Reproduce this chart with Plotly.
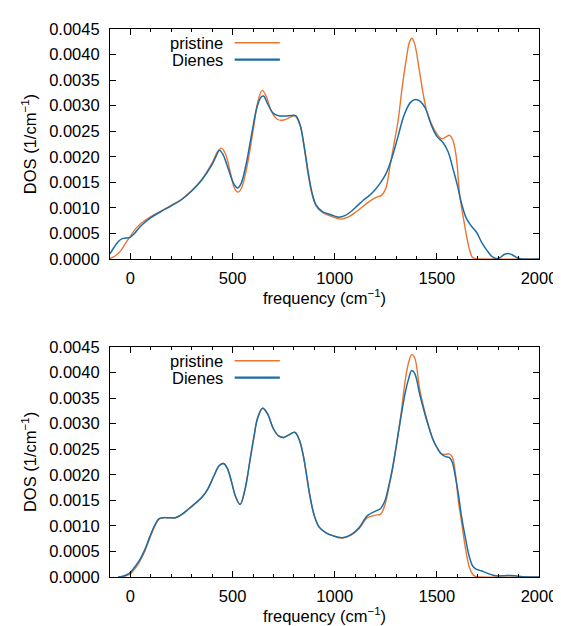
import plotly.graph_objects as go

# ---------------- data (DOS values in units of 1e-4 1/cm^-1) ----------------
top_pristine_x = [-100, -75, -50, -25, 0, 25, 50, 100, 150, 200, 250, 300, 350, 400, 425, 445, 465, 490, 510, 527,
                  545, 570, 600, 625, 645, 665, 690, 720, 750, 780, 805, 830, 850, 870, 890, 910, 940, 980, 1030,
                  1070, 1110, 1160, 1200, 1230, 1250, 1270, 1290, 1310, 1330, 1350, 1365, 1378, 1392, 1410, 1430,
                  1450, 1475, 1500, 1525, 1545, 1562, 1578, 1595, 1612, 1630, 1645, 1660, 1675, 1690, 1710, 2000]
top_pristine_y = [0.1, 0.6, 1.5, 3.0, 4.5, 5.9, 6.9, 8.3, 9.4, 10.5, 11.7, 13.4, 15.6, 18.8, 20.9, 21.7, 20.6, 16.8,
                  13.8, 13.1, 14.0, 18.0, 25.0, 31.0, 33.0, 31.8, 28.9, 27.3, 27.2, 27.7, 28.0, 26.2, 22.0, 16.5,
                  12.5, 10.3, 9.1, 8.4, 7.8, 8.3, 9.4, 11.0, 12.0, 12.5, 13.8, 18.0, 22.5, 27.0, 33.5, 39.0, 42.3,
                  43.2, 42.0, 38.0, 33.0, 29.0, 26.3, 24.5, 23.5, 23.9, 24.2, 23.3, 20.0, 12.5, 8.0, 4.6, 1.8, 0.3,
                  0.05, 0.0, 0.0]

top_dienes_x = [-100, -80, -60, -40, -20, 0, 20, 40, 60, 100, 150, 200, 250, 300, 350, 400, 420, 436, 455, 480, 505,
                524, 540, 565, 595, 620, 640, 652, 670, 700, 730, 760, 790, 810, 830, 850, 870, 890, 910, 940, 970,
                1000, 1020, 1050, 1080, 1110, 1140, 1160, 1190, 1220, 1250, 1280, 1310, 1340, 1370, 1395, 1420,
                1445, 1470, 1500, 1530, 1555, 1580, 1600, 1620, 1645, 1670, 1695, 1720, 1745, 1770, 1790, 1810,
                1830, 1850, 1870, 1890, 1910, 2000]
top_dienes_y = [1.0, 2.3, 3.4, 4.0, 4.1, 4.3, 5.0, 6.0, 6.8, 8.1, 9.3, 10.4, 11.6, 13.3, 15.5, 18.5, 20.2, 21.3, 20.3,
                17.5, 14.8, 13.9, 14.6, 18.3, 24.8, 29.8, 31.7, 31.9, 30.5, 28.5, 28.0, 28.0, 28.1, 28.0, 26.3, 22.2,
                17.0, 12.8, 10.5, 9.3, 8.8, 8.4, 8.2, 8.5, 9.3, 10.4, 11.5, 12.1, 13.2, 14.7, 16.6, 19.8, 24.0, 28.2,
                30.6, 31.2, 30.8, 29.4, 26.5, 24.0, 22.8, 21.0, 17.5, 14.5, 11.0, 7.9, 6.4, 5.2, 3.2, 1.7, 0.5, 0.1,
                0.3, 0.9, 1.1, 0.8, 0.3, 0.05, 0.0]

bot_pristine_x = [-60, -40, -20, 0, 20, 45, 70, 95, 120, 140, 160, 185, 220, 250, 285, 320, 350, 380, 410, 435, 456,
                  475, 495, 515, 537, 560, 588, 605, 622, 647, 670, 700, 725, 750, 775, 804, 825, 845, 862, 878, 900,
                  925, 955, 990, 1037, 1080, 1120, 1160, 1200, 1225, 1245, 1265, 1285, 1304, 1325, 1345, 1362, 1377,
                  1392, 1417, 1450, 1482, 1505, 1523, 1545, 1560, 1575, 1590, 1605, 1620, 1640, 1660, 1676, 1690,
                  1710, 2000]
bot_pristine_y = [0.0, 0.1, 0.3, 0.6, 1.5, 3.0, 5.0, 7.6, 10.0, 11.3, 11.6, 11.6, 11.6, 12.2, 13.3, 14.5, 15.6, 17.3,
                  19.9, 21.8, 22.2, 21.2, 18.6, 15.7, 14.2, 17.0, 23.5, 27.5, 31.0, 33.0, 32.0, 29.0, 27.6, 27.3,
                  27.8, 28.3, 27.0, 24.0, 20.0, 16.0, 12.0, 9.7, 8.7, 8.1, 7.6, 8.2, 9.5, 11.6, 12.1, 12.3, 14.0,
                  17.5, 21.5, 26.3, 32.0, 38.4, 42.0, 43.5, 42.8, 36.5, 31.0, 26.8, 25.0, 24.1, 24.0, 24.1, 23.5,
                  20.5, 15.0, 11.0, 5.6, 1.8, 0.5, 0.1, 0.0, 0.0]

bot_dienes_x = [-60, -40, -20, 0, 20, 45, 70, 95, 120, 140, 160, 185, 220, 250, 285, 320, 350, 380, 410, 435, 456,
                475, 495, 515, 537, 560, 588, 605, 622, 647, 670, 700, 725, 750, 775, 804, 825, 845, 862, 878, 900,
                925, 955, 990, 1037, 1080, 1120, 1160, 1200, 1225, 1245, 1265, 1285, 1304, 1325, 1345, 1362, 1377,
                1392, 1417, 1450, 1482, 1505, 1523, 1545, 1560, 1575, 1590, 1605, 1620, 1640, 1660, 1676, 1690,
                1710, 1725, 1750, 1775, 1800, 1830, 1860, 1890, 1920, 2000]
bot_dienes_y = [0.0, 0.1, 0.4, 0.9, 1.9, 3.3, 5.3, 7.9, 10.2, 11.4, 11.6, 11.6, 11.6, 12.2, 13.3, 14.5, 15.6, 17.3,
                19.9, 21.8, 22.2, 21.2, 18.6, 15.7, 14.2, 17.0, 23.5, 27.5, 31.0, 33.0, 32.0, 29.0, 27.6, 27.3,
                27.8, 28.3, 27.0, 24.0, 20.0, 16.0, 12.0, 9.7, 8.7, 8.1, 7.7, 8.3, 9.7, 12.0, 12.9, 13.4, 14.8,
                17.9, 21.8, 26.3, 31.5, 36.0, 38.8, 40.4, 39.8, 35.6, 30.7, 26.8, 25.0, 24.0, 23.5, 23.4, 22.5,
                19.8, 16.3, 12.0, 7.6, 3.8, 2.1, 1.6, 1.3, 1.1, 0.7, 0.35, 0.2, 0.25, 0.3, 0.2, 0.05, 0.0]

series_names = ["pristine", "Dienes"]
x_tick_labels = ["0", "500", "1000", "1500", "2000"]
x_tick_values = [0, 500, 1000, 1500, 2000]

SCALE = 1e-4
ORANGE = "#EA7531"
BLUE = "#1B6EA5"
FONT = "Liberation Sans, Arial, sans-serif"

fig = go.Figure()

panels = [
    ("x", "y", top_pristine_x, top_pristine_y, top_dienes_x, top_dienes_y),
    ("x2", "y2", bot_pristine_x, bot_pristine_y, bot_dienes_x, bot_dienes_y),
]
for xa, ya, px, py, dx, dy in panels:
    fig.add_trace(go.Scatter(x=px, y=[v * SCALE for v in py], mode="lines", name=series_names[0],
                             line=dict(color=ORANGE, width=1.4, shape="spline", smoothing=1.0),
                             xaxis=xa, yaxis=ya, showlegend=False, cliponaxis=True))
    fig.add_trace(go.Scatter(x=dx, y=[v * SCALE for v in dy], mode="lines", name=series_names[1],
                             line=dict(color=BLUE, width=1.5, shape="spline", smoothing=1.0),
                             xaxis=xa, yaxis=ya, showlegend=False, cliponaxis=True))

xcommon = dict(range=[-100, 2000], tickmode="array", tickvals=x_tick_values, ticktext=x_tick_labels,
               ticks="inside", ticklen=6, tickwidth=1, tickcolor="black",
               minor=dict(dtick=100, tick0=0, ticks="inside", ticklen=3, tickcolor="black", showgrid=False),
               showline=True, linecolor="black", linewidth=1.2, mirror="ticks",
               showgrid=False, zeroline=False, ticklabelstandoff=4,
               tickfont=dict(family=FONT, size=16.5, color="black"),
               title=dict(text="frequency (cm<sup>−1</sup>)", standoff=6,
                          font=dict(family=FONT, size=16.5, color="black")))
ycommon = dict(range=[0, 0.0045], dtick=0.0005, tick0=0, tickformat=".4f",
               ticks="inside", ticklen=6, tickwidth=1, tickcolor="black",
               showline=True, linecolor="black", linewidth=1.2, mirror="ticks",
               showgrid=False, zeroline=False, ticklabelstandoff=6,
               tickfont=dict(family=FONT, size=16.5, color="black"),
               title=dict(text="DOS (1/cm<sup>−1</sup>)", standoff=8,
                          font=dict(family=FONT, size=16.5, color="black")))

fig.update_layout(
    width=561, height=626,
    margin=dict(l=102, r=22, t=20, b=51),
    plot_bgcolor="white", paper_bgcolor="white",
    showlegend=False,
    xaxis=dict(domain=[0, 1], anchor="y", **xcommon),
    yaxis=dict(domain=[0.5802, 1], anchor="x", **ycommon),
    xaxis2=dict(domain=[0, 1], anchor="y2", **xcommon),
    yaxis2=dict(domain=[0, 0.4198], anchor="x2", **ycommon),
)

# gnuplot-style key: text right-aligned, sample line to its right
for xa, ya in [("x", "y"), ("x2", "y2")]:
    for i, (name, col, w) in enumerate([(series_names[0], ORANGE, 1.4), (series_names[1], BLUE, 2.2)]):
        yk = 0.94 - i * 0.073
        fig.add_annotation(x=0.2677, y=yk, xref=f"{xa} domain", yref=f"{ya} domain",
                           text=name, showarrow=False, xanchor="right", yanchor="middle",
                           font=dict(family=FONT, size=16.5, color="black"))
        fig.add_shape(type="line", x0=0.2906, x1=0.3959, y0=yk, y1=yk,
                      xref=f"{xa} domain", yref=f"{ya} domain", line=dict(color=col, width=w))

fig.write_html("out.html")
